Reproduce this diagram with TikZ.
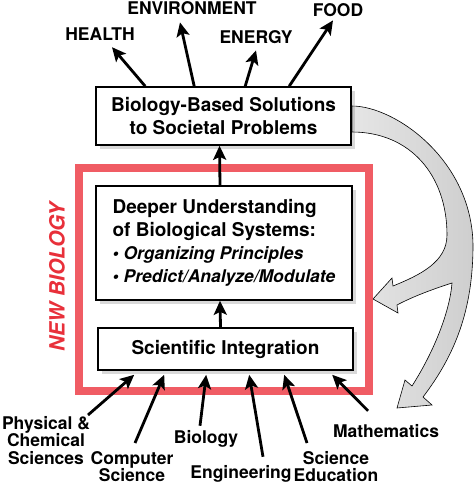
\documentclass[tikz,border=0pt]{standalone}
\usepackage{fontspec}
\setmainfont{TeX Gyre Heros}
\usetikzlibrary{arrows.meta,shadows}
\definecolor{nbred}{RGB}{240,92,100}
\definecolor{nbtext}{RGB}{232,48,58}
\newcommand\lblfont{\fontsize{17.5}{17.5}\selectfont\bfseries}
\newcommand\boxfont{\fontsize{19}{23}\selectfont\bfseries}
\tikzset{
  box/.style={draw, line width=1.6pt, fill=white, inner sep=0pt, font=\boxfont,
    drop shadow={shadow xshift=4pt, shadow yshift=-4pt, opacity=0.3}},
  arr/.style={line width=2.8pt, -{Stealth[length=14pt,width=13pt,inset=3pt]}},
  lbl/.style={font=\lblfont, inner sep=1pt},
}
\begin{document}
\begin{tikzpicture}[x=1pt, y=-1pt]
  \useasboundingbox (0,0) rectangle (474,485);
  % flecha gris de vuelta
  \path[draw=black, line width=0.6pt, left color=gray!20, right color=gray!38]
    (352,106) .. controls (395,106) and (472,160) .. (473,245)
    .. controls (473,310) and (455,355) .. (423,397)
    -- (432,405) -- (397,408) -- (405,380) -- (412,386)
    .. controls (435,350) and (450,310) .. (452,283)
    .. controls (430,290) and (410,298) .. (397,305)
    -- (398,313) -- (373,299) -- (392,278) -- (393,286)
    .. controls (420,275) and (447,262) .. (447,235)
    .. controls (447,175) and (410,132) .. (352,132) -- cycle;
  % marco rojo
  \draw[nbred, line width=7.5pt] (79,168) rectangle (369,391);
  \node[rotate=90, text=nbtext, font=\fontsize{21}{21}\selectfont\bfseries\itshape] (nb) at (57,277) {NEW BIOLOGY};
  % cajas
  \node[box, minimum width=255pt, minimum height=58pt, align=center] (sol) at (223.5,116)
    {Biology-Based Solutions\\to Societal Problems};
  \node[box, minimum width=256pt, minimum height=114pt, align=left] (und) at (224,243)
    {Deeper Understanding\\of Biological Systems:\\
     {\fontsize{17.5}{23}\selectfont\itshape\textbullet\ Organizing Principles}\\
     {\fontsize{17.5}{23}\selectfont\itshape\textbullet\ Predict/Analyze/Modulate}};
  \node[box, minimum width=255pt, minimum height=42pt] (integ) at (225.5,349) {Scientific Integration};
  \draw[arr] ([shift={(-4,0)}]und.north) -- ([shift={(-4,0)}]sol.south);
  \draw[arr] ([shift={(-5,0)}]integ.north) -- ([shift={(-4,0)}]und.south);
  % metas arriba
  \node[lbl, anchor=base] (health) at (100,40) {HEALTH};
  \node[lbl, anchor=base] (env) at (192,14) {ENVIRONMENT};
  \node[lbl, anchor=base] (energy) at (256,43) {ENERGY};
  \node[lbl, anchor=base] (food) at (338,16) {FOOD};
  \draw[arr] ([shift={(50,0)}]sol.north west) -- ([shift={(12,6)}]health.south);
  \draw[arr] ([shift={(99,0)}]sol.north west) -- ([shift={(-12,7)}]env.south);
  \draw[arr] ([shift={(150,0)}]sol.north west) -- ([shift={(0,6)}]energy.south);
  \draw[arr] ([shift={(194,0)}]sol.north west) -- ([shift={(-5,3)}]food.south);
  % disciplinas abajo
  \node[lbl, anchor=north, align=center] (phys) at (46,415) {Physical \&\\Chemical\\Sciences};
  \node[lbl, anchor=north, align=center] (comp) at (132,450) {Computer\\Science};
  \node[lbl, anchor=base] (bio) at (206,443) {Biology};
  \node[lbl, anchor=base] (eng) at (241,478) {Engineering};
  \node[lbl, anchor=north, align=center] (scied) at (336,450) {Science\\Education};
  \node[lbl, anchor=base] (math) at (386,437) {Mathematics};
  \draw[arr] ([shift={(42,0)}]phys.north) -- ([shift={(37,4)}]integ.south west);
  \draw[arr] ([shift={(3,-7)}]comp.north) -- ([shift={(67,4)}]integ.south west);
  \draw[arr] ([shift={(-6,-3)}]bio.north) -- ([shift={(109,4)}]integ.south west);
  \draw[arr] ([shift={(22,-7)}]eng.north) -- ([shift={(152,4)}]integ.south west);
  \draw[arr] ([shift={(-29,-7)}]scied.north) -- ([shift={(187,4)}]integ.south west);
  \draw[arr] ([shift={(-18,-12)}]math.north) -- ([shift={(235,4)}]integ.south west);
\end{tikzpicture}
\end{document}
